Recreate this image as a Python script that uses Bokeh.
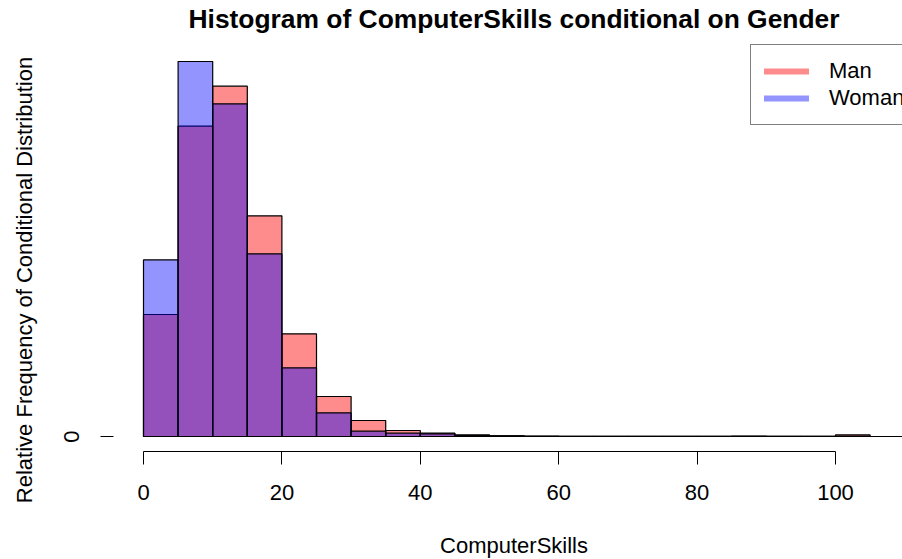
from bokeh.plotting import figure
from bokeh.models import Range1d, FixedTicker, LinearAxis, Legend, LegendItem, ColumnDataSource
from bokeh.core.properties import value
from bokeh.embed import file_html
from bokeh.resources import INLINE

# ---- data (density of each 5-unit bin) ----
bin_edges = [0, 5, 10, 15, 20, 25, 30, 35, 40, 45, 50, 55, 60, 65, 70, 75, 80, 85, 90, 95, 100, 105, 110]
man_density = [0.02077, 0.05282, 0.05963, 0.03757, 0.01748, 0.00681, 0.00272, 0.00102, 0.00056,
               0.00029, 0.00012, 0.00005, 0.00003, 0.00003, 0.00002, 0.00002, 0.00002, 0.00005,
               0.00002, 0.00003, 0.00026, 0.0]
woman_density = [0.03008, 0.06383, 0.05663, 0.03110, 0.01169, 0.00403, 0.00090, 0.00056, 0.00046,
                 0.00017, 0.00009, 0.00003, 0.00002, 0.00002, 0.00002, 0.00002, 0.00002, 0.00003,
                 0.00002, 0.00002, 0.00005, 0.0]
x_ticks = [0, 20, 40, 60, 80, 100]
y_ticks = [0]
groups = ["Man", "Woman"]
title_text = "Histogram of ComputerSkills conditional on Gender"
x_label = "ComputerSkills"
y_label = "Relative Frequency of Conditional Distribution"

FONT = "Liberation Sans"
MAN_COLOR = "#FF0000"
WOMAN_COLOR = "#0000FF"
W, H = 902, 559

# ---- pixel layout (R-style plot region) ----
X0_PX, XSCALE = 143.0, 6.92          # pixel of x=0, pixels per x unit
Y0_PX = 436.0                        # pixel of y=0
ymax = max(max(man_density), max(woman_density))
YSCALE = 375.0 / ymax                # pixels per y unit
REGION_LEFT, REGION_BOTTOM = 113.0, 451.0


def px_x(px):
    return (px - X0_PX) / XSCALE


def px_y(py):
    return (Y0_PX - py) / YSCALE


p = figure(width=W, height=H, output_backend="svg", toolbar_location=None,
           x_range=Range1d(px_x(0), px_x(W)), y_range=Range1d(px_y(H), px_y(0)),
           x_axis_type=None, y_axis_type=None,
           min_border_left=0, min_border_right=0, min_border_top=0, min_border_bottom=0)
p.title.text = ""
p.outline_line_color = None
p.background_fill_color = "white"
p.border_fill_color = "white"

centers = [(a + b) / 2 for a, b in zip(bin_edges[:-1], bin_edges[1:])]
src_m = ColumnDataSource(dict(left=bin_edges[:-1], right=bin_edges[1:], top=man_density, mid=centers))
src_w = ColumnDataSource(dict(left=bin_edges[:-1], right=bin_edges[1:], top=woman_density, mid=centers))
p.quad(left="left", right="right", bottom=0, top="top", source=src_m,
       fill_color=MAN_COLOR, fill_alpha=0.45, line_color="black", line_width=1.2)
p.quad(left="left", right="right", bottom=0, top="top", source=src_w,
       fill_color=WOMAN_COLOR, fill_alpha=0.42, line_color="black", line_width=1.2)

# legend key renderers (hidden; only used for the legend swatches)
lm = p.line(x="mid", y="top", source=src_m, line_color=MAN_COLOR, line_alpha=0.45,
            line_width=6, line_cap="round", visible=False)
lw = p.line(x="mid", y="top", source=src_w, line_color=WOMAN_COLOR, line_alpha=0.42,
            line_width=6, line_cap="round", visible=False)
legend = Legend(items=[LegendItem(label=groups[0], renderers=[lm]),
                       LegendItem(label=groups[1], renderers=[lw])],
                location=(750, H - 125), glyph_width=45, glyph_height=26, label_height=26,
                label_standoff=20, padding=13, spacing=1, margin=0,
                label_text_font=FONT, label_text_font_size="22px", label_text_color="black",
                border_line_color="black", border_line_width=1,
                background_fill_color="white", background_fill_alpha=1.0,
                inactive_fill_alpha=0.0)
p.add_layout(legend)

# x axis (drawn at the bottom of the R plot region)
xa = LinearAxis(fixed_location=px_y(REGION_BOTTOM))
xa.ticker = FixedTicker(ticks=x_ticks)
xa.bounds = (x_ticks[0], x_ticks[-1])
xa.major_tick_out = 13
xa.major_tick_in = 0
xa.minor_tick_line_color = None
xa.major_label_standoff = 20
xa.major_label_text_font = FONT
xa.major_label_text_font_size = "22px"
xa.major_label_text_color = "black"
xa.axis_line_color = "black"
xa.major_tick_line_color = "black"
p.add_layout(xa, "below")

# y axis (drawn at the left of the R plot region)
ya = LinearAxis(fixed_location=px_x(REGION_LEFT))
ya.ticker = FixedTicker(ticks=y_ticks)
ya.axis_line_color = None
ya.major_tick_out = 13
ya.major_tick_in = 0
ya.minor_tick_line_color = None
ya.major_tick_line_color = "black"
ya.major_label_orientation = "vertical"
ya.major_label_standoff = 22
ya.major_label_text_font = FONT
ya.major_label_text_font_size = "22px"
ya.major_label_text_color = "black"
ya.axis_label = y_label
ya.axis_label_standoff = 24
ya.axis_label_text_font = FONT
ya.axis_label_text_font_size = "22px"
ya.axis_label_text_font_style = "normal"
ya.axis_label_text_color = "black"
p.add_layout(ya, "left")

# title and x label, centred on the original plot region
cx = px_x(513.5)
p.text(x=[cx], y=[px_y(18.5)], text=[title_text], text_align="center",
       text_baseline="alphabetic", text_font=value(FONT), text_font_size=value("26.4px"),
       text_font_style="bold", text_color="black")
p.text(x=[cx], y=[px_y(545)], text=[x_label], text_align="center",
       text_baseline="alphabetic", text_font=value(FONT), text_font_size=value("22px"),
       text_color="black")

open("out.html", "w").write(file_html(p, INLINE))
